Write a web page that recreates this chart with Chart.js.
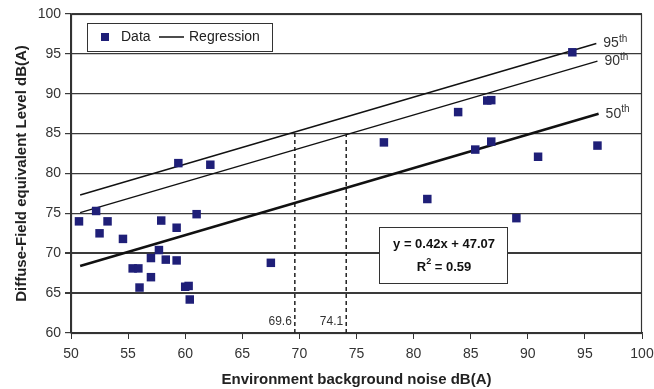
<!DOCTYPE html>
<html>
<head>
<meta charset="utf-8">
<script src="https://cdn.jsdelivr.net/npm/chart.js@4/dist/chart.umd.min.js"></script>
<style>
  html, body { margin: 0; padding: 0; background: #fff; }
  #wrap { width: 654px; height: 389px; position: relative; }
</style>
</head>
<body>
<div id="wrap"><canvas id="grafico"></canvas></div>
<script>
// Valores
const dadosX = [50.7, 52.2, 53.2, 52.5, 54.55, 55.4, 55.9, 56.0, 57.0, 57.0, 57.7, 57.9, 58.3, 59.25, 59.25,
  60.0, 60.3, 60.4, 61.0, 67.5, 59.4, 62.2, 93.9, 86.45, 86.8, 83.9, 77.4, 85.4, 86.8, 90.9, 96.1, 81.2, 89.0];
const dadosY = [74.0, 75.3, 74.0, 72.5, 71.8, 68.1, 68.1, 65.7, 67.0, 69.4, 70.4, 74.1, 69.2, 73.2, 69.1,
  65.8, 65.9, 64.2, 74.9, 68.8, 81.3, 81.1, 95.2, 89.15, 89.2, 87.7, 83.9, 83.0, 84.0, 82.1, 83.5, 76.8, 74.4];

// Retas de regressão (percentis) - extremos
const p50X = [50.8, 96.2], p50Y = [68.4, 87.5];
const p90X = [50.8, 96.1], p90Y = [75.1, 94.1];
const p95X = [50.8, 96.0], p95Y = [77.3, 96.3];

// Linhas verticais tracejadas
const corteX = [69.6, 74.1];
const corteTopo = [85.2, 84.9];
const corteRotulos = ['69.6', '74.1'];

const percentis = ['95', '90', '50'];
const xTicks = [50, 55, 60, 65, 70, 75, 80, 85, 90, 95, 100];
const yTicks = [60, 65, 70, 75, 80, 85, 90, 95, 100];

const equacao = ['y = 0.42x + 47.07', 'R', '2', ' = 0.59'];

const FONTE = '"Liberation Sans", Arial, sans-serif';
const AZUL = '#1f1f78';

function pares(xs, ys) {
  return xs.map((x, i) => ({ x: x, y: ys[i] }));
}

// Desenha moldura, legenda, caixa da equação e rótulos
const extras = {
  id: 'extras',
  afterDatasetsDraw(chart) {
    const ctx = chart.ctx;
    const a = chart.chartArea;
    const sx = chart.scales.x, sy = chart.scales.y;
    ctx.save();

    // moldura
    ctx.strokeStyle = '#333';
    ctx.lineWidth = 1.2;
    ctx.strokeRect(a.left + 0.5, a.top + 0.5, a.right - a.left - 1, a.bottom - a.top);

    // rótulos dos cortes
    ctx.fillStyle = '#333';
    ctx.font = '12px ' + FONTE;
    ctx.textAlign = 'right';
    ctx.textBaseline = 'middle';
    corteX.forEach((v, i) => {
      ctx.fillText(corteRotulos[i], sx.getPixelForValue(v) - 3, sy.getPixelForValue(61.4));
    });

    // rótulos dos percentis
    const fins = [[p95X[1], p95Y[1]], [p90X[1], p90Y[1]], [p50X[1], p50Y[1]]];
    ctx.textAlign = 'left';
    fins.forEach((f, i) => {
      const px = sx.getPixelForValue(f[0]) + 7;
      const py = sy.getPixelForValue(f[1]);
      ctx.font = '14px ' + FONTE;
      ctx.fillStyle = '#333';
      ctx.fillText(percentis[i], px, py);
      const w = ctx.measureText(percentis[i]).width;
      ctx.font = '10px ' + FONTE;
      ctx.fillText('th', px + w, py - 4);
    });

    // legenda
    ctx.fillStyle = '#fff';
    ctx.fillRect(87, 23, 185, 28);
    ctx.strokeStyle = '#333';
    ctx.lineWidth = 1;
    ctx.strokeRect(87.5, 23.5, 185, 28);
    ctx.fillStyle = AZUL;
    ctx.fillRect(101, 33, 8, 8);
    ctx.strokeStyle = '#111';
    ctx.lineWidth = 1.5;
    ctx.beginPath();
    ctx.moveTo(159, 37);
    ctx.lineTo(184, 37);
    ctx.stroke();
    ctx.fillStyle = '#222';
    ctx.font = '14px ' + FONTE;
    ctx.textBaseline = 'middle';
    ctx.fillText('Data', 121, 37);
    ctx.fillText('Regression', 189, 37);

    // caixa da equação
    ctx.fillStyle = '#fff';
    ctx.fillRect(379, 227, 128, 56);
    ctx.strokeStyle = '#333';
    ctx.lineWidth = 1;
    ctx.strokeRect(379.5, 227.5, 128, 56);
    ctx.fillStyle = '#111';
    ctx.font = 'bold 13px ' + FONTE;
    ctx.textAlign = 'center';
    ctx.fillText(equacao[0], 444, 244);
    const w1 = ctx.measureText(equacao[1]).width;
    const w3 = ctx.measureText(equacao[3]).width;
    ctx.font = 'bold 9px ' + FONTE;
    const w2 = ctx.measureText(equacao[2]).width;
    let x0 = 444 - (w1 + w2 + w3) / 2;
    ctx.textAlign = 'left';
    ctx.font = 'bold 13px ' + FONTE;
    ctx.fillText(equacao[1], x0, 267);
    ctx.font = 'bold 9px ' + FONTE;
    ctx.fillText(equacao[2], x0 + w1, 262);
    ctx.font = 'bold 13px ' + FONTE;
    ctx.fillText(equacao[3], x0 + w1 + w2, 267);

    ctx.restore();
  }
};

const conjuntos = [
  {
    label: 'Data',
    data: pares(dadosX, dadosY),
    pointStyle: 'rect',
    pointRadius: 6,
    backgroundColor: AZUL,
    borderWidth: 0,
    showLine: false
  },
  { data: pares(p50X, p50Y), showLine: true, borderColor: '#111', borderWidth: 2.5, pointRadius: 0 },
  { data: pares(p90X, p90Y), showLine: true, borderColor: '#111', borderWidth: 1.4, pointRadius: 0 },
  { data: pares(p95X, p95Y), showLine: true, borderColor: '#111', borderWidth: 1.4, pointRadius: 0 }
];
corteX.forEach((v, i) => {
  conjuntos.push({
    data: pares([v, v], [60, corteTopo[i]]),
    showLine: true, borderColor: '#222', borderWidth: 1.5, borderDash: [4, 3], pointRadius: 0
  });
});

const grafico = new Chart(document.getElementById('grafico'), {
  type: 'scatter',
  data: { datasets: conjuntos },
  options: {
    responsive: true,
    maintainAspectRatio: false,
    animation: false,
    layout: { padding: { top: 14, right: 12, left: 0, bottom: 0 } },
    plugins: { legend: { display: false }, tooltip: { enabled: false } },
    scales: {
      x: {
        type: 'linear', min: 50, max: 100,
        afterBuildTicks: (s) => { s.ticks = xTicks.map(v => ({ value: v })); },
        afterFit: (s) => { s.height = 56; s.paddingLeft = 0; s.paddingRight = 0; },
        grid: { drawOnChartArea: false, drawTicks: true, tickLength: 6, color: '#333' },
        border: { color: '#333', width: 1.2 },
        ticks: { color: '#333', font: { family: FONTE, size: 14 }, padding: 7 },
        title: {
          display: true, text: 'Environment background noise dB(A)', color: '#222',
          font: { family: FONTE, size: 15, weight: 'bold' }, padding: { top: 4, bottom: 0 }
        }
      },
      y: {
        min: 60, max: 100,
        afterBuildTicks: (s) => { s.ticks = yTicks.map(v => ({ value: v })); },
        afterFit: (s) => { s.width = 71; s.paddingTop = 0; s.paddingBottom = 0; },
        grid: {
          color: '#3a3a3a', tickLength: 6,
          lineWidth: (c) => (c.tick && (c.tick.value === 65 || c.tick.value === 70)) ? 2 : 1.2
        },
        border: { color: '#333', width: 1.2 },
        ticks: { color: '#333', font: { family: FONTE, size: 14 }, padding: 4 },
        title: {
          display: true, text: 'Diffuse-Field equivalent Level dB(A)', color: '#222',
          font: { family: FONTE, size: 15, weight: 'bold' }, padding: { top: 13, bottom: 0 }
        }
      }
    }
  },
  plugins: [extras]
});
</script>
</body>
</html>
